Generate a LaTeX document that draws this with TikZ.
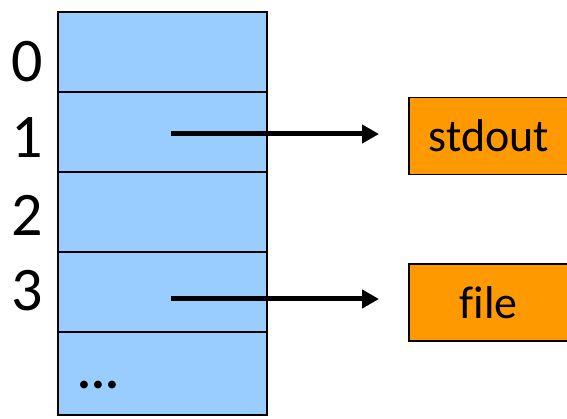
\documentclass[tikz,border=0pt]{standalone}
\usepackage{fontspec}
\setmainfont[Ligatures=NoCommon]{Carlito}
\usetikzlibrary{arrows.meta}
\definecolor{slotblue}{HTML}{99CCFF}
\definecolor{targetorange}{HTML}{FF9900}
\begin{document}
\begin{tikzpicture}[x=1pt,y=1pt,
  slot/.style={draw=black, line width=2pt, fill=slotblue, anchor=north west,
    minimum width=209pt, minimum height=80pt, inner sep=0pt, outer sep=0pt},
  target/.style={draw=black, line width=1.6pt, fill=targetorange, anchor=west,
    minimum width=166pt, minimum height=77pt, inner sep=0pt,
    font=\fontsize{46}{50}\selectfont},
  idx/.style={inner sep=0pt, font=\fontsize{62}{66}\selectfont},
  ptr/.style={line width=5pt, shorten >=29pt, -{Triangle[length=17pt,width=18pt]}}]
\useasboundingbox (0,0) rectangle (567,419);
% descriptor table slots
\node[slot] (s0) at (58,407) {};
\node[slot] (s1) at (58,327) {};
\node[slot] (s2) at (58,247) {};
\node[slot] (s3) at (58,167) {};
\node[slot, minimum height=83pt] (s4) at (58,87) {};
\node[inner sep=0pt, font=\fontsize{52}{56}\selectfont\bfseries] (dots) at (98.5,34) {...};
% indices
\node[idx] (i0) at (27,357) {0};
\node[idx] (i1) at (27,281) {1};
\node[idx] (i2) at (27,204) {2};
\node[idx] (i3) at (27,128) {3};
% open files
\node[target] (out) at (408,283) {\hspace*{-6pt}stdout};
\node[target] (file) at (408,116.5) {\hspace*{-6pt}file};
% pointers
\coordinate (p1) at (171,285);
\coordinate (p3) at (171,120);
\draw[ptr] (p1) -- (p1 -| out.west);
\draw[ptr] (p3) -- (p3 -| file.west);
\end{tikzpicture}
\end{document}
